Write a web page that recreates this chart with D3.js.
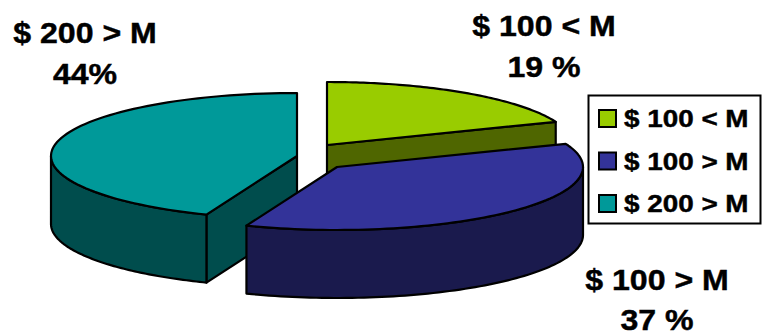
<!DOCTYPE html>
<html>
<head>
<meta charset="utf-8">
<style>
html,body{margin:0;padding:0;background:#fff}
svg{display:block}
text{font-family:"Liberation Sans",Arial,sans-serif;font-weight:bold;fill:#000;stroke:#000;stroke-width:.45px}
</style>
<script src="https://cdn.jsdelivr.net/npm/d3@7/dist/d3.min.js"></script>
</head>
<body>
<svg id="chart" width="762" height="333"></svg>
<script>
// Share of customers by spending band
const categories = ["$ 100 < M", "$ 100 > M", "$ 200 > M"];
const shares = [19, 37, 44];
const shareLabels = ["19 %", "37 %", "44%"];
const topColors = ["#99cc00", "#333399", "#009999"];
const wallColors = ["#4f6600", "#1a1a4d", "#004d4d"];

// Layout of the tilted, exploded pie
const radiusX = 246, radiusY = 63, depth = 68;
const sliceCentres = [[327, 145], [337, 167], [297, 156]];
const labelAnchors = [[544, 36, 77], [657, 290, 330], [85, 43, 84]];

const svg = d3.select("#chart");
const pie = d3.pie().sort(null).value(d => d);
const slices = pie(shares).map((s, i) => ({
  ...s,
  cx: sliceCentres[i][0],
  cy: sliceCentres[i][1],
  top: topColors[i],
  wall: wallColors[i]
}));

// Project a pie angle (clockwise from the top) onto the tilted plane
const project = (s, a, drop = 0) => [
  s.cx + radiusX * Math.sin(a),
  s.cy - radiusY * Math.cos(a) + drop
];
const arcPoints = (s, a0, a1, drop = 0) => {
  const n = 80;
  return d3.range(n + 1).map(k => project(s, a0 + (a1 - a0) * k / n, drop));
};
const line = d3.line();
const closed = pts => line(pts) + "Z";
const strokeStyle = g => g
  .attr("stroke", "#000")
  .attr("stroke-width", 2.2)
  .attr("stroke-linejoin", "round");

// Paint back to front so the blue slice overlaps its neighbours
[2, 0, 1].forEach(i => {
  const s = slices[i];
  const g = svg.append("g").call(strokeStyle);
  const apex = [s.cx, s.cy];
  const apexLow = [s.cx, s.cy + depth];

  // Radial wall facing the viewer: the cut edge of the green and teal slices
  const wallAngle = i === 0 ? s.endAngle : i === 2 ? s.startAngle : null;
  if (wallAngle !== null) {
    g.append("path").attr("fill", s.wall).attr("d", closed([
      apex, project(s, wallAngle), project(s, wallAngle, depth), apexLow
    ]));
  }

  // Outer rim: only the part of the arc on the near half of the ellipse
  const rimFrom = Math.max(s.startAngle, Math.PI / 2);
  const rimTo = Math.min(s.endAngle, Math.PI * 1.5);
  if (rimTo > rimFrom) {
    g.append("path").attr("fill", s.wall).attr("d", closed([
      ...arcPoints(s, rimFrom, rimTo),
      ...arcPoints(s, rimTo, rimFrom, depth)
    ]));
  }

  // Top face
  g.append("path").attr("fill", s.top).attr("d", closed([
    apex, ...arcPoints(s, s.startAngle, s.endAngle)
  ]));
});

// Bold text, slightly widened as in the slide the chart came from
function wideText(parent, x, y, str, size, stretch, anchor) {
  return parent.append("text")
    .attr("transform", `translate(${x},${y}) scale(${stretch},1)`)
    .attr("text-anchor", anchor)
    .attr("font-size", size)
    .text(str);
}

// Slice labels
categories.forEach((c, i) => {
  const [x, y1, y2] = labelAnchors[i];
  wideText(svg, x, y1, c, 30, 1.07, "middle");
  wideText(svg, x, y2, shareLabels[i], 30, 1.07, "middle");
});

// Legend
const legend = svg.append("g");
legend.append("rect")
  .attr("x", 588.5).attr("y", 95.5)
  .attr("width", 172).attr("height", 128)
  .attr("fill", "#fff").attr("stroke", "#000").attr("stroke-width", 2);
const rowY = d3.scalePoint().domain(categories).range([127, 212]);
categories.forEach((c, i) => {
  legend.append("rect")
    .attr("x", 599).attr("y", rowY(c) - 17)
    .attr("width", 17).attr("height", 17)
    .attr("fill", topColors[i]).attr("stroke", "#000").attr("stroke-width", 2);
  wideText(legend, 624, rowY(c), c, 24, 1.16, "start");
});
</script>
</body>
</html>
